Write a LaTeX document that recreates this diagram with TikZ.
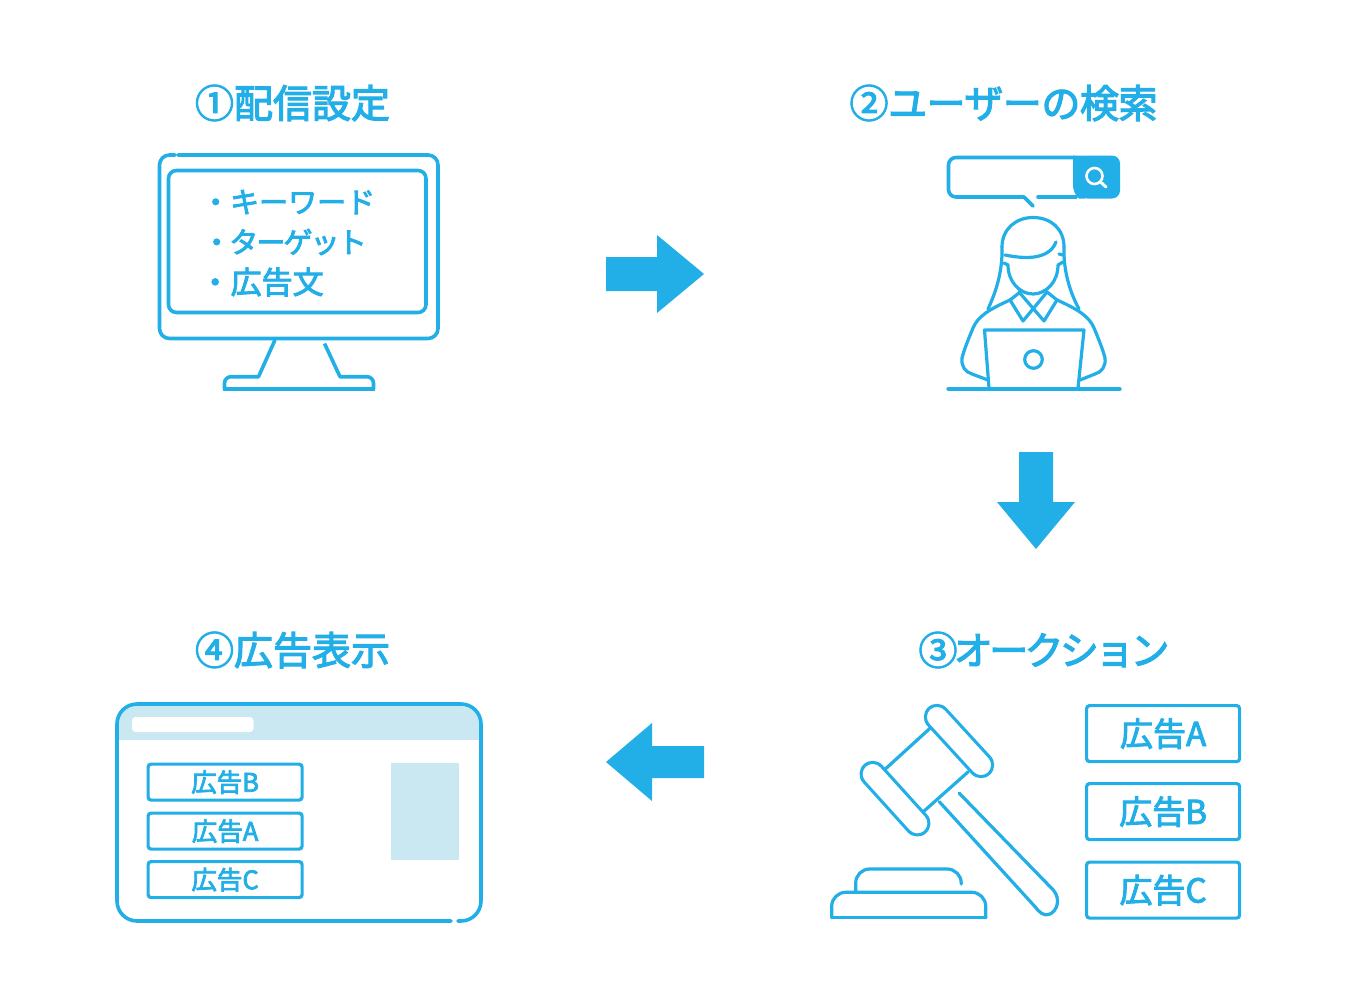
\documentclass[tikz,border=0pt]{standalone}
\usepackage{fontspec}
\setmainfont{Noto Sans CJK JP}[FakeBold=3]
\definecolor{mainblue}{HTML}{22AEE6}
\definecolor{lightblue}{HTML}{CAE8F2}
\tikzset{
  outline/.style={draw=mainblue,line width=3.6pt,line cap=round,line join=round},
  thin outline/.style={draw=mainblue,line width=3.2pt,line cap=round,line join=round},
  title/.style={text=mainblue,inner sep=0pt,font=\fontsize{39}{39}\selectfont},
  listtext/.style={text=mainblue,inner sep=0pt,anchor=west,font=\fontsize{29}{29}\selectfont},
  adbox/.style={draw=mainblue,line width=3.2pt,rounded corners=3pt,fill=white,text=mainblue,inner sep=0pt,anchor=north west},
  adlarge/.style={adbox,minimum width=153pt,minimum height=56pt,font=\fontsize{33}{33}\selectfont},
  adsmall/.style={adbox,minimum width=154pt,minimum height=36pt,font=\fontsize{25.5}{25.5}\selectfont},
  blockarrow/.style={fill=mainblue,draw=none},
  bar/.style={draw=mainblue,line width=3.2pt,double=white,double distance=20pt,line cap=round}
}
\begin{document}
\begin{tikzpicture}[x=1pt,y=-1pt]
\useasboundingbox (0,0) rectangle (1368,1001);
\fill[white] (0,0) rectangle (1368,1001);

% titles
\node[title] (t1) at (292.5,103) {①配信設定};
\node[title] (t2) at (1003.5,103) {\addfontfeatures{LetterSpace=-1.2}②ユーザーの検索};
\node[title] (t3) at (1044,650) {\addfontfeatures{LetterSpace=-9.4}③オークション};
\node[title] (t4) at (292.5,650) {④広告表示};

% monitor
\draw[outline,rounded corners=10pt] (175,155) -- (159.5,155) -- (159.5,338.5) -- (438,338.5) -- (438,155) -- (178,155);
\draw[outline,rounded corners=8pt] (200,170.5) -- (168.5,170.5) -- (168.5,312.5) -- (426,312.5) -- (426,170.5) -- cycle;
\draw[outline,line cap=butt] (275,340) -- (258.5,376.7) -- (238,376.7);
\draw[outline,line cap=butt,rounded corners=6.5pt] (238,376.7) -- (224.5,376.7) -- (224.5,389);
\draw[outline,line cap=butt] (223,389) -- (375,389);
\draw[outline,line cap=butt,rounded corners=6.5pt] (373.5,389) -- (373.5,376.7) -- (360,376.7);
\draw[outline,line cap=butt] (360,376.7) -- (340,376.7) -- (324.5,343.5);
\node[listtext] (l1) at (201,202) {・キーワード};
\node[listtext] (l2) at (202,242) {\addfontfeatures{LetterSpace=-6.5}・ターゲット};
\node[listtext,font=\fontsize{31}{31}\selectfont] (l3) at (199.5,282) {・広告文};

% arrows
\path[blockarrow] (606,257) -- (657,257) -- (657,235) -- (704,274) -- (657,313) -- (657,291) -- (606,291) -- cycle;
\path[blockarrow] (1019,452) -- (1053,452) -- (1053,502) -- (1075,502) -- (1036,549) -- (997,502) -- (1019,502) -- cycle;
\path[blockarrow] (704,746) -- (652,746) -- (652,723) -- (606,762) -- (652,801) -- (652,778) -- (704,778) -- cycle;

% search bar
\draw[outline,rounded corners=7.5pt] (1075,157.5) -- (948.5,157.5) -- (948.5,197) -- (1024,197);
\draw[outline] (1024,197) -- (1033,206);
\draw[outline] (1038,197) -- (1076,197);
\path[fill=mainblue,rounded corners=8pt] (1079,155.5) rectangle (1120,198.5);
\path[fill=mainblue] (1085,155.5) -- (1073,155.5) -- (1073,185) .. controls (1073,190) and (1075,195) .. (1079,198.5) -- (1085,198.5) -- cycle;
\draw[draw=white,line width=2.6pt] (1094.5,176) circle[radius=8];
\draw[draw=white,line width=3pt,line cap=round] (1100.5,182) -- (1106,187);

% person
\begin{scope}[thin outline]
\draw (1002,247) .. controls (1002,229) and (1016,217.5) .. (1033,217.5) .. controls (1051,217.5) and (1064,229) .. (1064,247);
\draw (1005,255) .. controls (1020,258) and (1048,262) .. (1056,242);
\draw (1002,247) -- (1002,255) .. controls (1001,278) and (994,296) .. (988,309);
\draw (1064,247) -- (1064,255) .. controls (1065,278) and (1072,296) .. (1079,309);
\draw (1004,263) -- (1008,265) .. controls (1008,282) and (1020,294) .. (1033,294) .. controls (1046,294) and (1058,282) .. (1058,265) -- (1063,262);
\draw (1059,254) -- (1063,255);
\draw (1019,292) -- (1044,321) -- (1057,300) -- (1047,292);
\draw (1047,292) -- (1023,321) -- (1010,300) -- (1019,293);
\draw (1010,300) .. controls (990,309) and (978,316) .. (973,328) .. controls (968,340) and (964,350) .. (962,358) .. controls (961,366) and (965,372) .. (972,374) -- (988,380);
\draw (1057,300) .. controls (1077,309) and (1089,316) .. (1094,328) .. controls (1099,340) and (1103,350) .. (1105,358) .. controls (1106,366) and (1102,372) .. (1095,374) -- (1080,380);
\draw[fill=white] (989,388) -- (984.5,330) -- (1084,330) -- (1078,388);
\draw (1033.5,359.5) circle[radius=8.8];
\draw (948,389) -- (1120,389);
\end{scope}

% gavel
\begin{scope}[thin outline]
\draw (885,769.3) -- (930,728.3);
\draw (923.3,811.7) -- (968.3,771.7);
\draw (939.3,801.7) -- (1035,906.7);
\draw (959.3,793.3) -- (1053.3,890) .. controls (1061,899) and (1057,911) .. (1050,914) .. controls (1044,917) and (1039,912) .. (1035,906.7);
\end{scope}
\draw[bar] (937,717) -- (981,765);
\draw[bar] (872.7,774) -- (917.3,823.3);
\begin{scope}[thin outline]
\draw[rounded corners=14pt] (855.7,891.7) -- (855.7,869) -- (961.2,869) -- (961.2,884);
\draw[rounded corners=14pt] (831.7,917.7) -- (831.7,892.3) -- (985.7,892.3) -- (985.7,917.7);
\draw (831.7,917.7) -- (985.7,917.7);
\end{scope}

% auction boxes
\node[adlarge] (a1) at (1085,704) {広告A};
\node[adlarge] (a2) at (1085,782) {広告B};
\node[adlarge] (a3) at (1085,860.5) {広告C};

% browser
\path[fill=lightblue,rounded corners=19pt] (118,760) -- (118,704) -- (480,704) -- (480,760) -- cycle;
\path[fill=white] (116,740) rectangle (482,765);
\path[fill=white,rounded corners=3.5pt] (132,717) rectangle (253.5,732);
\draw[outline,rounded corners=20pt] (451,921) -- (117,921) -- (117,704) -- (481,704) -- (481,921) -- (458,921);
\node[adsmall] (b1) at (146.5,762.5) {広告B};
\node[adsmall] (b2) at (146.5,811.5) {広告A};
\node[adsmall] (b3) at (146.5,860) {広告C};
\path[fill=lightblue] (391,762.5) rectangle (459,860);
\end{tikzpicture}
\end{document}
